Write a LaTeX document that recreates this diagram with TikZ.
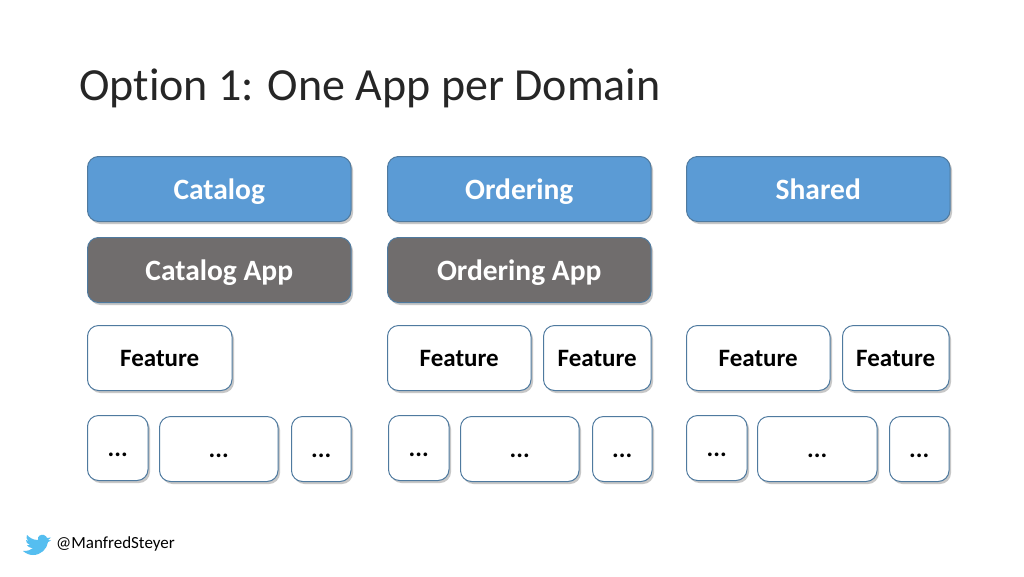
\documentclass[tikz,border=0pt]{standalone}
\usepackage{fontspec}
\setmainfont{Carlito}
\usetikzlibrary{shadows}
\definecolor{domainblue}{HTML}{5B9BD5}
\definecolor{appgray}{HTML}{706D6D}
\definecolor{boxline}{HTML}{4F7A9F}
\definecolor{birdblue}{HTML}{55BEF0}
\definecolor{titlegray}{HTML}{262626}
\tikzset{
  basebox/.style={draw=boxline,line width=1pt,rounded corners=11pt,anchor=north west,inner sep=0pt,
    drop shadow={shadow xshift=2pt,shadow yshift=-2.5pt,fill=black!55,opacity=0.4}},
  domainbox/.style={basebox,fill=domainblue,text=white,text height=24pt,text depth=4pt,font=\fontsize{29.5}{30}\selectfont\bfseries},
  appbox/.style={basebox,fill=appgray,text=white,text height=24pt,text depth=4pt,font=\fontsize{29.5}{30}\selectfont\bfseries},
  featurebox/.style={basebox,fill=white,text=black,text height=21pt,text depth=4pt,font=\fontsize{25}{25}\selectfont\bfseries},
  dotsbox/.style={basebox,fill=white,text=black,text height=21pt,text depth=4pt,font=\fontsize{25}{25}\selectfont\bfseries},
}
\begin{document}
\begin{tikzpicture}[x=1pt,y=-1pt]
\useasboundingbox[fill=white] (0,0) rectangle (1024,576);
% title
\node (title) [anchor=base west,inner sep=0pt,text=titlegray,font=\fontsize{46}{46}\selectfont\addfontfeatures{Ligatures=NoCommon}] at (79,100) {Option 1: One App per Domain};
% domains
\node (catalog) [domainbox,minimum width=263.5pt,minimum height=65pt] at (87,156) {Catalog};
\node (ordering) [domainbox,minimum width=263.5pt,minimum height=65pt] at (387,156) {Ordering};
\node (shared) [domainbox,minimum width=263.5pt,minimum height=65pt] at (686,156) {Shared};
% apps
\node (catalogapp) [appbox,minimum width=263.5pt,minimum height=65pt] at (87,237) {Catalog App};
\node (orderingapp) [appbox,minimum width=263.5pt,minimum height=65pt] at (387,237) {Ordering App};
% features
\node (feature1) [featurebox,minimum width=144.5pt,minimum height=65pt] at (87,325) {Feature};
\node (feature2) [featurebox,minimum width=143.5pt,minimum height=65pt] at (387,325) {Feature};
\node (feature3) [featurebox,minimum width=107.5pt,minimum height=65pt] at (543,325) {Feature};
\node (feature4) [featurebox,minimum width=143.5pt,minimum height=65pt] at (686,325) {Feature};
\node (feature5) [featurebox,minimum width=106.5pt,minimum height=65pt] at (842,325) {Feature};
% small boxes, one row
\foreach \boxname/\xpos/\ypos/\boxw in {a/87/415/60.5,b/159/416/118.5,c/291/416/59.5,d/388/415/60.5,e/460/416/118.5,f/592/416/59.5,g/686/415/60.5,h/757/416/119.5,i/889/416/59.5}
  \node (dots\boxname) [dotsbox,minimum width=\boxw pt,minimum height=65pt] at (\xpos,\ypos) {...};
% footer
\node (handle) [anchor=west,inner sep=0pt,font=\fontsize{17}{17}\selectfont] at (56,544) {@ManfredSteyer};
\fill[birdblue] (23,551) .. controls (28,551) and (31,550) .. (33,548)
  .. controls (29,548) and (28,546) .. (27,545)
  .. controls (28,545) and (29,545) .. (30,545)
  .. controls (27,544) and (26,542) .. (26,540)
  .. controls (27,541) and (28,541) .. (29,541)
  .. controls (26,539) and (26,537) .. (27,535)
  .. controls (30,538) and (33,540) .. (38,540)
  .. controls (37,536) and (41,534) .. (44,535)
  .. controls (46,536) and (47,537) .. (47,538)
  -- (51,537.5) -- (48,540) -- (51,540.5) -- (48,542)
  .. controls (47,549) and (41,555) .. (33,555)
  .. controls (29,555) and (26,553.5) .. (23,551) -- cycle;
\end{tikzpicture}
\end{document}
